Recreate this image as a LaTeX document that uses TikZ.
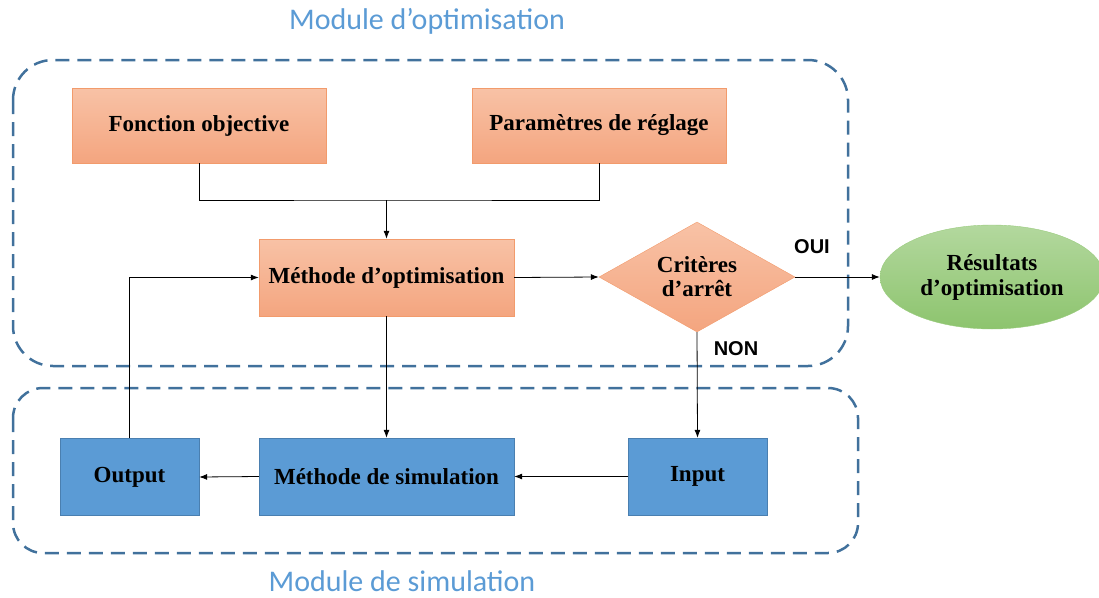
\documentclass[tikz,border=0pt]{standalone}
\usepackage{fontspec}
\setmainfont{Liberation Serif}
\newfontfamily\titlefont{Carlito}
\newfontfamily\labelfont{Liberation Sans}
\usetikzlibrary{arrows.meta,shapes.geometric}
\definecolor{framecol}{HTML}{41719C}
\definecolor{titlecol}{HTML}{5B9BD5}
\definecolor{orangetop}{HTML}{F8C2A6}
\definecolor{orangebot}{HTML}{F4A57F}
\definecolor{orangeline}{HTML}{F29B6C}
\definecolor{simblue}{HTML}{5B9BD5}
\definecolor{simline}{HTML}{4A7FB0}
\definecolor{greentop}{HTML}{B3D89E}
\definecolor{greenbot}{HTML}{8DC46E}
\definecolor{greenline}{HTML}{9ACB7E}

\tikzset{
  optbox/.style={draw=orangeline, top color=orangetop, bottom color=orangebot,
    minimum width=254pt, minimum height=75pt, inner sep=0pt,
    font=\fontsize{23}{25}\selectfont\bfseries},
  simbox/.style={draw=simline, fill=simblue, minimum height=77pt, inner sep=0pt,
    font=\fontsize{23}{25}\selectfont\bfseries},
  frame/.style={draw=framecol, line width=2.5pt, dash pattern=on 14pt off 8pt},
  modtitle/.style={text=titlecol, font=\titlefont\fontsize{30}{34}\selectfont},
  answer/.style={font=\labelfont\fontsize{20}{24}\selectfont\bfseries},
  link/.style={-{Latex[length=8pt,width=6pt]}, line width=0.8pt}
}

\begin{document}
\begin{tikzpicture}[x=1pt,y=-1pt]
\useasboundingbox (0,0) rectangle (1099,597);

%frames
\draw[frame, rounded corners=40pt] (13,60) rectangle (848,366);
\draw[frame, rounded corners=30pt] (13,388) rectangle (858,553);
\node[modtitle] (titleopt) at (427,21) {Module d’optimisation};
\node[modtitle] (titlesim) at (402,581) {Module de simulation};

%optimisation
\node[optbox] (objective) at (199,125.5) {Fonction objective};
\node[optbox] (tuning) at (599,125.5) {Paramètres de réglage};
\node[optbox, minimum width=255pt, minimum height=77pt] (optmethod) at (386.5,277.5) {Méthode d’optimisation};
\node[diamond, draw=orangeline, top color=orangetop, bottom color=orangebot,
  minimum width=196pt, minimum height=110pt, aspect=1.8, inner sep=0pt, align=center,
  font=\fontsize{23}{24}\selectfont\bfseries] (stop) at (697,277) {Critères\\d’arrêt};
\node[ellipse, draw=greenline, top color=greentop, bottom color=greenbot,
  minimum width=224pt, minimum height=104pt, inner sep=0pt, align=center,
  font=\fontsize{23}{25}\selectfont\bfseries] (results) at (992,277) {Résultats\\d’optimisation};

%simulation
\node[simbox, minimum width=139pt] (output) at (129.5,477) {Output};
\node[simbox, minimum width=255pt] (simmethod) at (386.5,476.5) {Méthode de simulation};
\node[simbox, minimum width=139pt] (input) at (697.5,476.5) {Input};

%connectors
\coordinate (merge) at (386.5,200);
\draw[line width=0.8pt] (objective.south) |- (merge) -| (tuning.south);
\draw[link] (merge) -- (optmethod.north);
\draw[link] (optmethod.east) -- (stop.west);
\draw[link] (stop.east) -- (results.west);
\draw[link] (stop.south) -- (input.north);
\draw[link] (optmethod.south) -- (simmethod.north);
\draw[link] (input.west) -- (simmethod.east);
\draw[link] (simmethod.west) -- (output.east);
\draw[link] (output.north) |- (optmethod.west);

%answers
\node[answer] (yes) at (812,247) {OUI};
\node[answer] (no) at (736,349) {NON};
\end{tikzpicture}
\end{document}
